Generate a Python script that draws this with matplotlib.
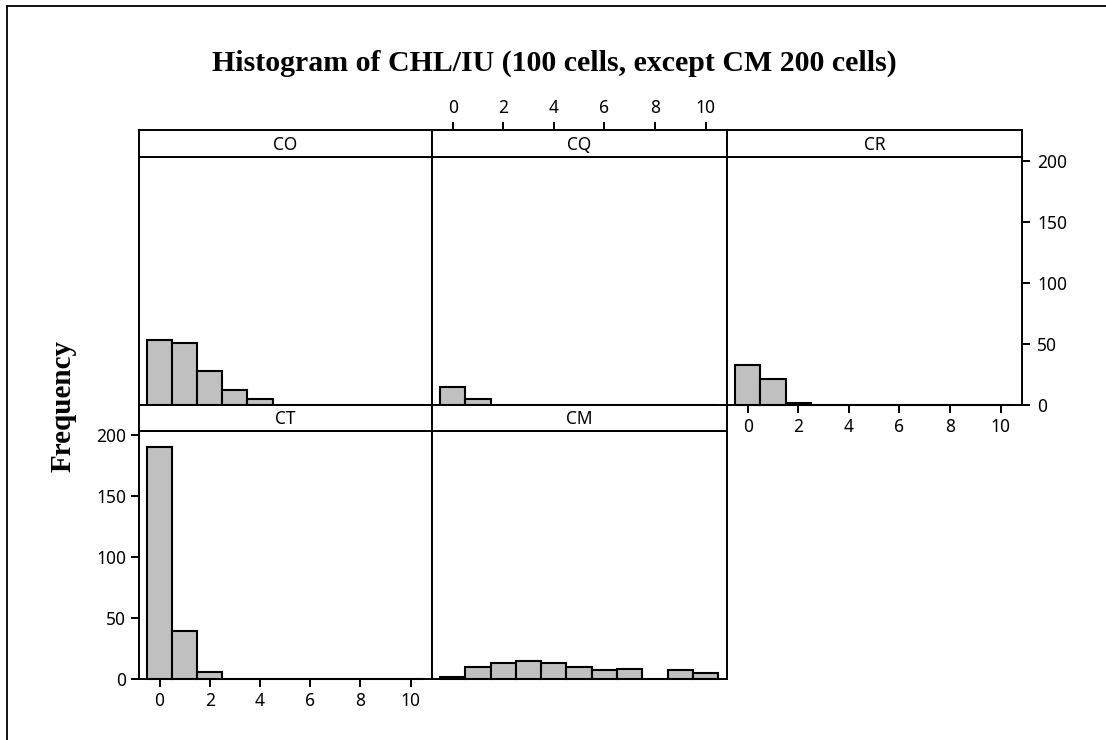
import matplotlib
matplotlib.use("Agg")
import matplotlib.pyplot as plt
from matplotlib.lines import Line2D

# CHL/IU frequency counts per cell line, bins centred on 0..10
bins = [0, 1, 2, 3, 4, 5, 6, 7, 8, 9, 10]
counts_co = [53, 51, 28, 12, 5, 0, 0, 0, 0, 0, 0]
counts_cq = [15, 5, 0, 0, 0, 0, 0, 0, 0, 0, 0]
counts_cr = [33, 21, 2, 0, 0, 0, 0, 0, 0, 0, 0]
counts_ct = [190, 39, 6, 0, 0, 0, 0, 0, 0, 0, 0]
counts_cm = [2, 10, 13, 15, 13, 10, 7, 8, 0, 7, 5]

x_ticks = [0, 2, 4, 6, 8, 10]
y_ticks = [0, 50, 100, 150, 200]
title = "Histogram of CHL/IU (100 cells, except CM 200 cells)"
ylabel = "Frequency"

W, H = 1106, 740
fig = plt.figure(figsize=(W / 100, H / 100), dpi=100)
fig.patch.set_facecolor("white")

TICK_FONT = dict(family="Noto Sans", size=12.5)
BAR_GREY = "#c0c0c0"
LW = 1.4


def rect(x0, y0, x1, y1):
    return [x0 / W, 1 - y1 / H, (x1 - x0) / W, (y1 - y0) / H]


col_edges = [139, 432, 727, 1022]
rows = [(130, 157, 405), (405, 431, 679)]  # strip top, plot top, plot bottom

panels = [
    ("CO", counts_co, 0, 0),
    ("CQ", counts_cq, 0, 1),
    ("CR", counts_cr, 0, 2),
    ("CT", counts_ct, 1, 0),
    ("CM", counts_cm, 1, 1),
]

XLIM = (-0.82, 10.85)
YLIM = (0, 203.3)


def style_ticks(ax):
    ax.tick_params(direction="out", length=5.6, width=LW, color="black",
                   labelsize=TICK_FONT["size"], pad=3.5)
    for lab in ax.get_xticklabels() + ax.get_yticklabels():
        lab.set_fontfamily(TICK_FONT["family"])


for name, counts, r, c in panels:
    s_top, p_top, p_bot = rows[r]
    x0, x1 = col_edges[c], col_edges[c + 1]

    ax = fig.add_axes(rect(x0, p_top, x1, p_bot))
    ax.bar(bins, counts, width=1.0, color=BAR_GREY, edgecolor="black",
           linewidth=1.5, align="center", zorder=2, clip_on=False)
    ax.set_xlim(*XLIM)
    ax.set_ylim(*YLIM)
    for sp in ax.spines.values():
        sp.set_linewidth(LW)
        sp.set_color("black")
    ax.set_xticks([])
    ax.set_yticks([])

    if (r, c) == (1, 0):
        ax.set_yticks(y_ticks)
        ax.set_yticklabels([str(v) for v in y_ticks])
        ax.set_xticks(x_ticks)
        ax.set_xticklabels([str(v) for v in x_ticks])
    if (r, c) == (0, 2):
        ax.yaxis.tick_right()
        ax.set_yticks(y_ticks)
        ax.set_yticklabels([str(v) for v in y_ticks])
        ax.set_xticks(x_ticks)
        ax.set_xticklabels([str(v) for v in x_ticks])
    style_ticks(ax)
    if (r, c) == (0, 2):
        ax.tick_params(axis="y", pad=5.5)

    # strip with the panel name
    sax = fig.add_axes(rect(x0, s_top, x1, p_top))
    sax.set_facecolor("white")
    sax.set_xlim(*XLIM)
    sax.set_ylim(0, 1)
    sax.set_yticks([])
    sax.set_xticks([])
    for sp in sax.spines.values():
        sp.set_linewidth(LW)
        sp.set_color("black")
    sax.text(0.5, 0.45, name, transform=sax.transAxes, ha="center",
             va="center", fontfamily=TICK_FONT["family"],
             fontsize=TICK_FONT["size"])
    if (r, c) == (0, 1):
        sax.xaxis.tick_top()
        sax.set_xticks(x_ticks)
        sax.set_xticklabels([str(v) for v in x_ticks])
        style_ticks(sax)

# overall title and y label
fig.text(554 / W, 1 - 63 / H, title, ha="center", va="center",
         fontfamily="Liberation Serif", fontweight="bold", fontsize=21.5)
fig.text(63 / W, 1 - 406 / H, ylabel, ha="center", va="center",
         rotation=90, fontfamily="Liberation Serif", fontweight="bold",
         fontsize=21)

# page frame on the left and top
fig.add_artist(Line2D([7 / W, 7 / W], [0, 1 - 6 / H], transform=fig.transFigure,
                      color="black", linewidth=1.3))
fig.add_artist(Line2D([7 / W, 1], [1 - 6 / H, 1 - 6 / H], transform=fig.transFigure,
                      color="black", linewidth=1.3))

fig.savefig("out.png", dpi=100)
